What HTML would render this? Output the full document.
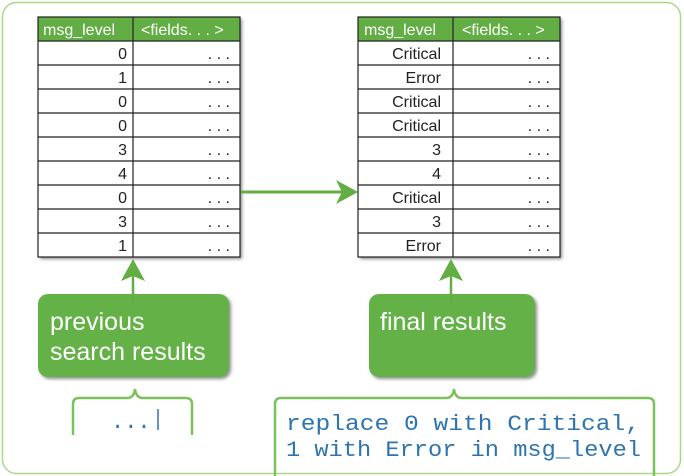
<!DOCTYPE html>
<html><head><meta charset="utf-8"><style>
html,body{margin:0;padding:0;background:#fff;}
svg{display:block;}
</style></head><body>
<svg width="684" height="476" viewBox="0 0 684 476" xmlns="http://www.w3.org/2000/svg" font-family="Liberation Sans, sans-serif">
<defs>
<filter id="sh" x="-10%" y="-10%" width="130%" height="130%"><feDropShadow dx="2" dy="2" stdDeviation="1.5" flood-color="#000" flood-opacity="0.45"/></filter>
</defs>
<rect x="2.5" y="2.5" width="678" height="471" rx="14" fill="none" stroke="#a9d88a" stroke-width="1.5"/>

<!-- left table -->
<g filter="url(#sh)">
<rect x="38" y="17" width="202" height="240" fill="#fff"/>
</g>
<rect x="38" y="17" width="202" height="24" fill="#62ae45"/>
<g stroke="#222" stroke-width="1.2" fill="none">
<rect x="38" y="17" width="202" height="240"/>
<line x1="133" y1="17" x2="133" y2="257"/>
<line x1="38" y1="41" x2="240" y2="41"/><line x1="38" y1="65" x2="240" y2="65"/><line x1="38" y1="89" x2="240" y2="89"/><line x1="38" y1="113" x2="240" y2="113"/><line x1="38" y1="137" x2="240" y2="137"/><line x1="38" y1="161" x2="240" y2="161"/><line x1="38" y1="185" x2="240" y2="185"/><line x1="38" y1="209" x2="240" y2="209"/><line x1="38" y1="233" x2="240" y2="233"/>
</g>
<g font-size="16" fill="#fff"><text x="43" y="35">msg_level</text><text x="141" y="35">&lt;fields. . . &gt;</text></g>
<g font-size="16" fill="#222" text-anchor="end">
<text x="127" y="59">0</text><text x="127" y="83">1</text><text x="127" y="107">0</text><text x="127" y="131">0</text><text x="127" y="155">3</text><text x="127" y="179">4</text><text x="127" y="203">0</text><text x="127" y="227">3</text><text x="127" y="251">1</text>
</g>
<g font-size="16" fill="#222" text-anchor="end">
<text x="230" y="59">. . .</text><text x="230" y="83">. . .</text><text x="230" y="107">. . .</text><text x="230" y="131">. . .</text><text x="230" y="155">. . .</text><text x="230" y="179">. . .</text><text x="230" y="203">. . .</text><text x="230" y="227">. . .</text><text x="230" y="251">. . .</text>
</g>

<!-- right table -->
<g filter="url(#sh)">
<rect x="358" y="17" width="202" height="240" fill="#fff"/>
</g>
<rect x="358" y="17" width="202" height="24" fill="#62ae45"/>
<g stroke="#222" stroke-width="1.2" fill="none">
<rect x="358" y="17" width="202" height="240"/>
<line x1="453" y1="17" x2="453" y2="257"/>
<line x1="358" y1="41" x2="560" y2="41"/><line x1="358" y1="65" x2="560" y2="65"/><line x1="358" y1="89" x2="560" y2="89"/><line x1="358" y1="113" x2="560" y2="113"/><line x1="358" y1="137" x2="560" y2="137"/><line x1="358" y1="161" x2="560" y2="161"/><line x1="358" y1="185" x2="560" y2="185"/><line x1="358" y1="209" x2="560" y2="209"/><line x1="358" y1="233" x2="560" y2="233"/>
</g>
<g font-size="16" fill="#fff"><text x="364" y="35">msg_level</text><text x="462" y="35">&lt;fields. . . &gt;</text></g>
<g font-size="16" fill="#222" text-anchor="end">
<text x="441" y="59">Critical</text><text x="441" y="83">Error</text><text x="441" y="107">Critical</text><text x="441" y="131">Critical</text><text x="441" y="155">3</text><text x="441" y="179">4</text><text x="441" y="203">Critical</text><text x="441" y="227">3</text><text x="441" y="251">Error</text>
</g>
<g font-size="16" fill="#222" text-anchor="end">
<text x="550" y="59">. . .</text><text x="550" y="83">. . .</text><text x="550" y="107">. . .</text><text x="550" y="131">. . .</text><text x="550" y="155">. . .</text><text x="550" y="179">. . .</text><text x="550" y="203">. . .</text><text x="550" y="227">. . .</text><text x="550" y="251">. . .</text>
</g>

<!-- horizontal arrow -->
<line x1="241" y1="192" x2="345" y2="192" stroke="#62ae45" stroke-width="3"/>
<polygon points="358,192 336,180 342,192 336,204" fill="#62ae45"/>

<!-- green boxes -->
<rect x="38" y="294" width="191" height="83" rx="10" fill="#64b146" filter="url(#sh)"/>
<rect x="369" y="294" width="166" height="83" rx="10" fill="#64b146" filter="url(#sh)"/>
<g font-size="25" fill="#fff">
<text x="50" y="330">previous</text><text x="50" y="360">search results</text>
<text x="380" y="330">final results</text>
</g>

<!-- up arrows -->
<line x1="133" y1="305" x2="133" y2="272" stroke="#62ae45" stroke-width="2.5"/>
<polygon points="133,259 121,281 133,276 145,281" fill="#62ae45"/>
<line x1="451" y1="305" x2="451" y2="272" stroke="#62ae45" stroke-width="2.5"/>
<polygon points="451,259 439,281 451,276 463,281" fill="#62ae45"/>

<!-- brackets -->
<path d="M73 435 V404 Q73 398 79 398 H127 Q134 398 135 389 Q136 398 143 398 H186 Q192 398 192 404 V435" fill="none" stroke="#7cc15c" stroke-width="2.5"/>
<path d="M275 476 V404 Q275 398 281 398 H446 Q453 398 454 389 Q455 398 462 398 H648 Q654 398 654 404 V476" fill="none" stroke="#7cc15c" stroke-width="2.5"/>
<g font-family="Liberation Mono, monospace" font-size="22" fill="#2e75b0">
<text x="111" y="428">...</text>
<line x1="158" y1="409" x2="158" y2="430" stroke="#2e75b0" stroke-width="1.5"/>
<text x="286" y="430" textLength="354" lengthAdjust="spacingAndGlyphs">replace 0 with Critical,</text>
<text x="286" y="456" textLength="355" lengthAdjust="spacingAndGlyphs">1 with Error in msg_level</text>
</g>
</svg>
</body></html>
